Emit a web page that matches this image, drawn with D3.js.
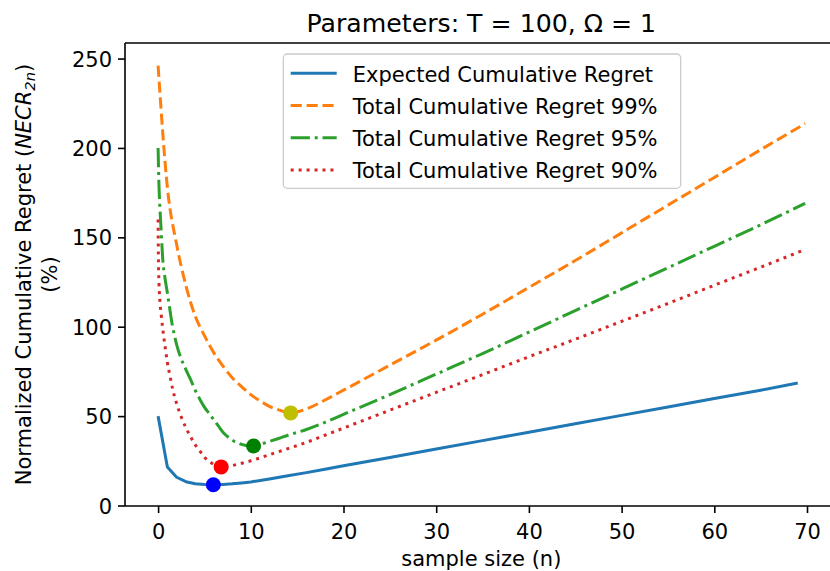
<!DOCTYPE html>
<html>
<head>
<meta charset="utf-8">
<script src="https://cdn.jsdelivr.net/npm/d3@7/dist/d3.min.js"></script>
<style>
  html, body { margin: 0; padding: 0; background: #fff; }
  svg { display: block; font-family: "DejaVu Sans", sans-serif; }
</style>
</head>
<body>
<svg id="chart" width="830" height="571"></svg>
<script>
// ---------------- data ----------------
const titleText = "Parameters: T = 100, \u03A9 = 1";
const xLabelText = "sample size (n)";
const xTicks = [0, 10, 20, 30, 40, 50, 60, 70];
const yTicks = [0, 50, 100, 150, 200, 250];

const seriesNames = [
  "Expected Cumulative Regret",
  "Total Cumulative Regret 99%",
  "Total Cumulative Regret 95%",
  "Total Cumulative Regret 90%"
];

const nExpected = [0,1,2,3,4,5,6,7,8,9,10,12,14,16,18,20,25,30,35,40,45,50,55,60,65,69];
const vExpected = [50,21.5,15.8,13.3,12.2,11.7,11.6,11.8,12.1,12.6,13.2,14.8,16.6,18.4,20.3,22.2,26.9,31.6,36.3,41,45.7,50.4,55.1,59.8,64.5,68.5];

const n99 = [0,1,2,3,4,5,6,7,8,9,10,11,12,13,14.3,16,18,20,25,30,35,40,45,50,55,60,65,69.8];
const v99 = [246,178,146,123,106,95,85.5,78,71.5,66.5,62,58.5,55.5,53.5,51.8,54,59,64.5,78.5,92.5,107,122,137,152.5,168,183.5,199,213.6];

const n95 = [0,0.1,0.2,0.3,0.5,0.75,1,1.5,2,2.5,3,3.5,4,4.5,5,5.5,6,6.5,7,7.5,8,8.5,9,9.5,10.3,11,12,13,14,16,18,20,25,30,35,40,45,50,55,60,65,69.8];
const v95 = [200,178,166,157,138,127,119,102,90,82,76,70.5,64.5,59.5,55,51.5,48,44.5,41,38.5,36.5,35.2,34.2,33.6,33.3,34.2,35.8,37.5,39.3,42.5,46.5,51,62,73.5,85,97,109,121,133,145,157,169];

const n90 = [0,0.03,0.1,0.2,0.35,0.5,0.75,1,1.3,1.6,2,2.5,3,3.5,4,4.5,5,5.5,6,6.8,7.5,8.5,10,12,14,16,18,20,25,30,35,40,45,50,55,60,65,69.8];
const v90 = [160,140,124,114,106,99,89,80,72,64.5,57,49.5,43.5,38.5,34,30.5,27,24.8,23,21.6,21.8,23,25,28.4,31.8,35.3,39.3,43.3,53.3,63.3,73.2,83.2,93,103,113,123.2,133.3,143.2];

// minimum markers (expected, 90%, 95%, 99%)
const minN = [5.96, 6.8, 10.3, 14.3];
const minV = [11.6, 21.6, 33.3, 51.8];
const minColors = ["#0000ff", "#ff0000", "#008000", "#bfbf00"];

// ---------------- layout ----------------
const svg = d3.select("#chart");
const W = 830, H = 571;
const mLeft = 125, mRight = 837.6, mTop = 43, mBottom = 506;

const x = d3.scaleLinear().domain([-3.57, 73.3]).range([mLeft, mRight]);
const y = d3.scaleLinear().domain([-0.28, 258.7]).range([mBottom, mTop]);

const fs = 21;

const series = [
  {name: seriesNames[0], n: nExpected, v: vExpected, color: "#1f77b4", dash: null, curve: d3.curveLinear},
  {name: seriesNames[1], n: n99, v: v99, color: "#ff7f0e", dash: "11.1,4.8", curve: d3.curveMonotoneX},
  {name: seriesNames[2], n: n95, v: v95, color: "#2ca02c", dash: "19.2,4.8,3,4.8", curve: d3.curveMonotoneX},
  {name: seriesNames[3], n: n90, v: v90, color: "#d62728", dash: "3,4.95", curve: d3.curveMonotoneX}
];

svg.append("defs").append("clipPath").attr("id", "plotclip")
  .append("rect").attr("x", mLeft).attr("y", mTop).attr("width", mRight - mLeft).attr("height", mBottom - mTop);

const plot = svg.append("g").attr("clip-path", "url(#plotclip)");

series.forEach(s => {
  const pts = s.n.map((nv, i) => [nv, s.v[i]]);
  const line = d3.line().x(d => x(d[0])).y(d => y(d[1])).curve(s.curve);
  plot.append("path")
    .datum(pts)
    .attr("d", line)
    .attr("fill", "none")
    .attr("stroke", s.color)
    .attr("stroke-width", 3)
    .attr("stroke-linecap", "butt")
    .attr("stroke-linejoin", "round")
    .attr("stroke-dasharray", s.dash);
});

plot.selectAll("circle.min")
  .data(minN.map((nv, i) => ({n: nv, v: minV[i], c: minColors[i]})))
  .enter().append("circle")
  .attr("class", "min")
  .attr("cx", d => x(d.n))
  .attr("cy", d => y(d.v))
  .attr("r", 7.5)
  .attr("fill", d => d.c);

// axes
const xAxis = d3.axisBottom(x).tickValues(xTicks).tickSize(7).tickPadding(5).tickSizeOuter(0);
const yAxis = d3.axisLeft(y).tickValues(yTicks).tickSize(7).tickPadding(6).tickSizeOuter(0);

const gx = svg.append("g").attr("transform", `translate(0,${mBottom})`).call(xAxis);
const gy = svg.append("g").attr("transform", `translate(${mLeft},0)`).call(yAxis);
[gx, gy].forEach(g => {
  g.select(".domain").remove();
  g.selectAll(".tick line").attr("stroke", "#000").attr("stroke-width", 1.6);
  g.selectAll(".tick text").attr("fill", "#000").attr("font-size", fs)
    .attr("font-family", "DejaVu Sans, sans-serif");
});
gx.selectAll(".tick text").attr("dy", null).attr("y", 32.5);
gy.selectAll(".tick text").attr("dy", "0.36em");

// spines
svg.append("line").attr("x1", mLeft).attr("x2", mLeft).attr("y1", mTop).attr("y2", mBottom)
  .attr("stroke", "#000").attr("stroke-width", 1.6);
svg.append("line").attr("x1", mLeft).attr("x2", W + 10).attr("y1", mTop).attr("y2", mTop)
  .attr("stroke", "#000").attr("stroke-width", 1.6);
svg.append("line").attr("x1", mLeft).attr("x2", W + 10).attr("y1", mBottom).attr("y2", mBottom)
  .attr("stroke", "#000").attr("stroke-width", 1.6);

// title
svg.append("text")
  .attr("x", (mLeft + mRight) / 2).attr("y", 31.7)
  .attr("text-anchor", "middle")
  .attr("font-size", 25.2)
  .attr("fill", "#000")
  .text(titleText);

// x label
svg.append("text")
  .attr("x", (mLeft + mRight) / 2).attr("y", 566)
  .attr("text-anchor", "middle")
  .attr("font-size", fs)
  .attr("fill", "#000")
  .text(xLabelText);

// y label (two lines)
const cyMid = (mTop + mBottom) / 2;
const yl1 = svg.append("text")
  .attr("transform", `translate(31,${cyMid}) rotate(-90)`)
  .attr("text-anchor", "middle")
  .attr("font-size", fs)
  .attr("fill", "#000");
yl1.append("tspan").text("Normalized Cumulative Regret (");
yl1.append("tspan").attr("font-style", "italic").text("NECR");
yl1.append("tspan").attr("font-style", "italic").attr("font-size", fs * 0.7).attr("dy", 4).text("2n");
yl1.append("tspan").attr("dy", -4).text(")");

svg.append("text")
  .attr("transform", `translate(57,${cyMid}) rotate(-90)`)
  .attr("text-anchor", "middle")
  .attr("font-size", fs)
  .attr("fill", "#000")
  .text("(%)");

// legend
const lg = svg.append("g");
lg.append("rect")
  .attr("x", 283.3).attr("y", 54).attr("width", 397.4).attr("height", 134.3)
  .attr("rx", 4).attr("ry", 4)
  .attr("fill", "#fff").attr("fill-opacity", 0.8)
  .attr("stroke", "#cccccc").attr("stroke-width", 1.3);

series.forEach((s, i) => {
  const base = 81.5 + 32.2 * i;
  const ly = base - 8.2;
  lg.append("line")
    .attr("x1", 290.7).attr("x2", 336.7).attr("y1", ly).attr("y2", ly)
    .attr("stroke", s.color).attr("stroke-width", 3)
    .attr("stroke-dasharray", s.dash);
  lg.append("text")
    .attr("x", 352.7).attr("y", base)
    .attr("font-size", fs).attr("fill", "#000")
    .text(s.name);
});
</script>
</body>
</html>
